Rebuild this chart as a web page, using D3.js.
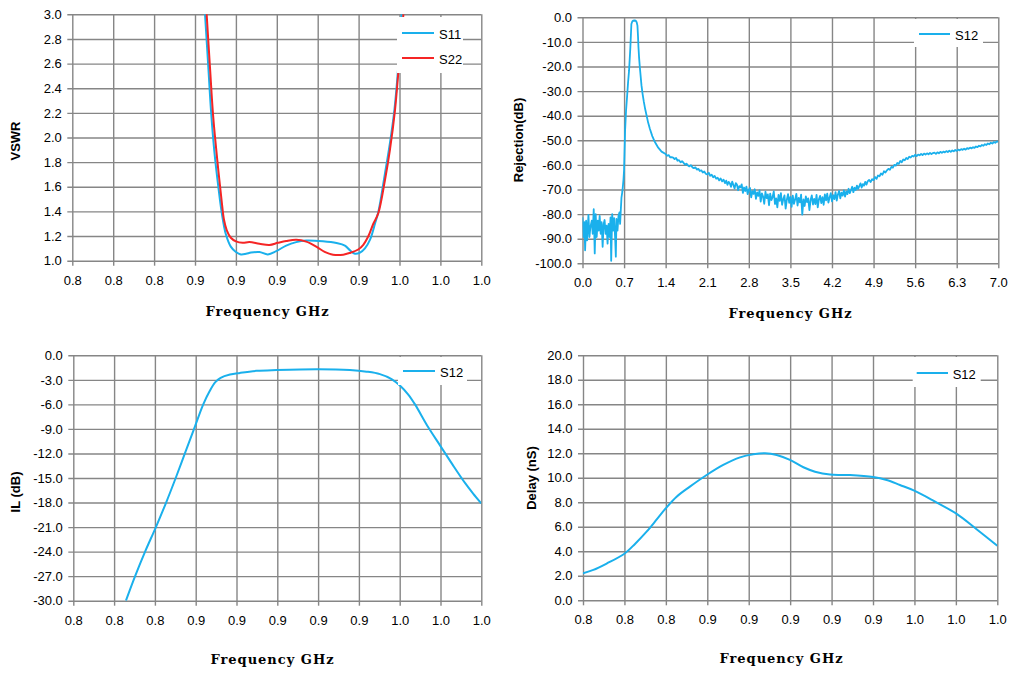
<!DOCTYPE html>
<html>
<head>
<meta charset="utf-8">
<script src="https://cdn.jsdelivr.net/npm/d3@7"></script>
<style>
  html, body { margin: 0; padding: 0; background: #fff; }
  svg { display: block; }
</style>
</head>
<body>
<svg id="chart" width="1021" height="673"></svg>
<script>
// ---------------- DATA ----------------
const freqTicks = [0.80, 0.82, 0.84, 0.86, 0.88, 0.90, 0.92, 0.94, 0.96, 0.98, 1.00];
const freqTickLabels = ["0.8","0.8","0.8","0.9","0.9","0.9","0.9","0.9","1.0","1.0","1.0"];
const wideTicks = [0, 0.7, 1.4, 2.1, 2.8, 3.5, 4.2, 4.9, 5.6, 6.3, 7.0];
const wideTickLabels = ["0.0","0.7","1.4","2.1","2.8","3.5","4.2","4.9","5.6","6.3","7.0"];

const vswrTicks = [1.0, 1.2, 1.4, 1.6, 1.8, 2.0, 2.2, 2.4, 2.6, 2.8, 3.0];
const vswrTickLabels = ["1.0","1.2","1.4","1.6","1.8","2.0","2.2","2.4","2.6","2.8","3.0"];
const rejTicks = [-100, -90, -80, -70, -60, -50, -40, -30, -20, -10, 0];
const rejTickLabels = ["-100.0","-90.0","-80.0","-70.0","-60.0","-50.0","-40.0","-30.0","-20.0","-10.0","0.0"];
const ilTicks = [-30, -27, -24, -21, -18, -15, -12, -9, -6, -3, 0];
const ilTickLabels = ["-30.0","-27.0","-24.0","-21.0","-18.0","-15.0","-12.0","-9.0","-6.0","-3.0","0.0"];
const delayTicks = [0, 2, 4, 6, 8, 10, 12, 14, 16, 18, 20];
const delayTickLabels = ["0.0","2.0","4.0","6.0","8.0","10.0","12.0","14.0","16.0","18.0","20.0"];

// VSWR [GHz, VSWR]
const vswrS11 = [[0.8649,3.0],[0.8665,2.575],[0.8678,2.223],[0.8694,1.898],[0.8714,1.601],[0.8731,1.386],
  [0.8751,1.214],[0.8775,1.114],[0.8800,1.071],[0.8825,1.051],[0.8850,1.056],[0.8874,1.066],[0.8915,1.071],
  [0.8956,1.051],[0.8997,1.077],[0.9046,1.123],[0.9095,1.151],[0.9144,1.163],[0.9226,1.157],[0.9292,1.143],
  [0.9333,1.123],[0.9357,1.086],[0.9382,1.057],[0.9407,1.066],[0.9431,1.100],[0.9456,1.171],[0.9480,1.300],
  [0.9497,1.400],[0.9529,1.709],[0.9553,1.953],[0.9575,2.223],[0.9594,2.575],[0.9610,3.0]];
const vswrS22 = [[0.8657,3.0],[0.8673,2.575],[0.8689,2.169],[0.8709,1.817],[0.8730,1.490],[0.8742,1.330],
  [0.8755,1.249],[0.8775,1.186],[0.8800,1.157],[0.8833,1.145],[0.8866,1.152],[0.8915,1.138],[0.8964,1.128],
  [0.9005,1.145],[0.9046,1.160],[0.9095,1.170],[0.9144,1.155],[0.9193,1.114],[0.9234,1.071],[0.9275,1.049],
  [0.9325,1.049],[0.9357,1.063],[0.9398,1.091],[0.9423,1.129],[0.9448,1.200],[0.9472,1.300],[0.9496,1.384],
  [0.9529,1.655],[0.9553,1.898],[0.9578,2.223],[0.9594,2.521],[0.9619,3.0]];

// Rejection S12 [GHz, dB]
const rejS12 = [
  [0.000,-81.3],[0.017,-89.3],[0.033,-83.3],[0.044,-94.7],[0.061,-82.7],[0.078,-90.7],[0.100,-80.3],
  [0.117,-89.3],[0.133,-85.3],[0.156,-82.7],[0.172,-88.0],[0.189,-78.0],[0.206,-96.0],[0.222,-80.0],
  [0.239,-89.3],[0.256,-82.7],[0.272,-86.7],[0.289,-80.7],[0.306,-88.0],[0.322,-83.3],[0.339,-93.3],
  [0.356,-84.0],[0.372,-82.4],[0.389,-88.0],[0.406,-84.7],[0.422,-92.0],[0.439,-84.0],[0.456,-89.3],
  [0.472,-81.3],[0.483,-99.0],[0.500,-80.0],[0.517,-86.7],[0.533,-81.6],[0.550,-90.0],[0.561,-97.3],
  [0.572,-82.0],[0.589,-86.7],[0.606,-80.7],[0.622,-79.3],[0.633,-84.0],[0.644,-78.7],[0.656,-73.3],
  [0.672,-70.7],[0.690,-66.0],[0.700,-62.0],[0.717,-46.0],[0.733,-38.0],[0.750,-32.4],[0.767,-26.5],
  [0.784,-21.6],[0.806,-12.1],[0.823,-2.7],[0.838,-1.7],[0.852,-1.4],[0.875,-1.3],[0.897,-1.4],
  [0.912,-2.0],[0.925,-3.4],[0.935,-8.0],[0.942,-12.1],[0.953,-16.5],[0.965,-20.2],[0.980,-24.2],
  [0.993,-27.7],[1.012,-31.2],[1.033,-34.4],[1.055,-37.3],[1.078,-39.8],[1.105,-42.8],[1.134,-45.3],
  [1.175,-48.3],[1.219,-50.7],[1.275,-53.0],[1.331,-54.6],
  [1.400,-55.6],[1.425,-56.3],[1.450,-56.0],[1.475,-56.9],[1.500,-56.8],[1.525,-57.0],[1.550,-57.6],
  [1.575,-57.2],[1.600,-58.3],[1.625,-58.1],[1.650,-58.9],[1.675,-58.5],[1.700,-59.1],[1.725,-59.9],
  [1.750,-59.5],[1.775,-60.2],[1.800,-60.6],[1.825,-60.1],[1.850,-61.0],[1.875,-61.3],[1.900,-61.0],
  [1.925,-61.9],[1.950,-61.6],[1.975,-62.5],[2.000,-62.2],[2.025,-63.1],[2.050,-62.7],[2.075,-63.6],
  [2.100,-63.9],[2.125,-63.2],[2.150,-64.4],[2.175,-64.0],[2.200,-65.0],[2.225,-64.5],[2.250,-65.6],
  [2.275,-65.2],[2.300,-66.3],[2.325,-65.5],[2.350,-66.7],[2.375,-66.0],[2.400,-67.4],
  [2.42,-66.4],[2.44,-68.1],[2.46,-66.9],[2.48,-67.5],[2.50,-68.9],[2.52,-66.8],[2.54,-68.2],[2.56,-69.6],
  [2.58,-67.4],[2.60,-68.0],[2.62,-70.3],[2.64,-68.6],[2.66,-69.1],[2.68,-67.9],[2.70,-71.4],[2.72,-69.2],
  [2.74,-70.6],[2.76,-68.8],[2.78,-71.9],[2.80,-70.1],[2.82,-69.4],[2.84,-73.2],[2.86,-70.7],[2.88,-71.8],
  [2.90,-69.9],[2.92,-73.8],[2.94,-71.2],[2.96,-72.6],[2.98,-70.4],[3.00,-74.9],[3.02,-71.6],[3.04,-72.9],
  [3.06,-75.8],[3.08,-70.9],[3.10,-73.5],[3.12,-72.0],[3.14,-76.4],[3.16,-71.7],[3.18,-74.3],[3.20,-73.1],
  [3.22,-70.8],[3.24,-75.9],[3.26,-73.6],[3.28,-77.3],[3.30,-72.2],[3.32,-74.6],[3.34,-71.5],[3.36,-76.2],
  [3.38,-73.9],[3.40,-72.4],[3.42,-77.8],[3.44,-74.1],[3.46,-71.9],[3.48,-75.4],[3.50,-73.0],[3.52,-77.1],
  [3.54,-72.5],[3.56,-75.8],[3.58,-74.0],[3.60,-71.8],[3.62,-76.5],[3.64,-73.4],[3.66,-75.2],[3.68,-72.1],
  [3.70,-80.2],[3.72,-74.0],[3.74,-76.7],[3.76,-72.8],[3.78,-75.1],[3.80,-73.6],[3.82,-78.4],[3.84,-74.3],
  [3.86,-72.4],[3.88,-76.1],[3.90,-73.8],[3.92,-75.9],[3.94,-72.2],[3.96,-77.3],[3.98,-74.0],[4.00,-72.6],
  [4.02,-75.5],[4.04,-73.1],[4.06,-76.2],[4.08,-72.0],[4.10,-74.4],[4.12,-71.7],[4.14,-75.3],[4.16,-73.2],
  [4.18,-71.5],[4.20,-74.8],[4.22,-72.3],[4.24,-73.9],[4.26,-71.1],[4.28,-74.5],[4.30,-72.0],[4.32,-70.6],
  [4.34,-73.6],[4.36,-71.3],[4.38,-72.5],[4.40,-70.4],[4.42,-72.9],[4.44,-70.8],[4.46,-71.9],[4.48,-69.7],
  [4.50,-71.5],[4.52,-70.2],[4.54,-68.9],[4.56,-71.1],[4.58,-69.3],[4.60,-70.2],[4.62,-68.4],[4.64,-69.8],
  [4.66,-68.6],[4.68,-67.5],[4.70,-69.2],[4.72,-67.8],[4.74,-68.4],[4.76,-66.9],[4.78,-68.0],[4.80,-66.7],
  [4.825,-66.1],[4.850,-67.0],[4.875,-65.8],[4.900,-66.2],[4.925,-64.9],[4.950,-65.7],[4.975,-64.3],
  [5.000,-64.6],[5.025,-63.5],[5.050,-64.0],[5.075,-62.6],[5.100,-63.1],[5.125,-62.2],[5.150,-61.6],
  [5.175,-62.0],[5.200,-60.8],[5.225,-61.1],[5.250,-60.0],[5.275,-60.3],[5.300,-59.2],[5.325,-59.6],
  [5.350,-58.4],[5.375,-58.9],[5.400,-57.8],[5.425,-58.1],[5.450,-57.2],[5.475,-57.6],[5.500,-56.7],
  [5.525,-57.0],[5.550,-56.3],[5.575,-56.6],[5.600,-55.9],[5.625,-56.4],[5.650,-55.8],[5.675,-56.1],
  [5.700,-55.5],[5.725,-56.0],[5.750,-55.4],[5.775,-55.8],[5.800,-55.3],[5.825,-55.7],[5.850,-55.1],
  [5.875,-55.6],[5.900,-55.2],[5.925,-55.0],[5.950,-55.5],[5.975,-54.9],[6.000,-55.3],[6.025,-54.7],
  [6.050,-55.1],[6.075,-54.6],[6.100,-54.9],[6.125,-54.4],[6.150,-54.8],[6.175,-54.2],[6.200,-54.7],
  [6.225,-54.1],[6.250,-54.5],[6.275,-53.9],[6.300,-54.3],[6.325,-53.8],[6.350,-54.1],[6.375,-53.6],
  [6.400,-53.9],[6.425,-53.4],[6.450,-53.8],[6.475,-53.2],[6.500,-53.5],[6.525,-53.0],[6.550,-53.3],
  [6.575,-52.8],[6.600,-53.1],[6.625,-52.5],[6.650,-52.8],[6.675,-52.2],[6.700,-52.5],[6.725,-51.9],
  [6.750,-52.2],[6.775,-51.6],[6.800,-51.9],[6.825,-51.3],[6.850,-51.6],[6.875,-51.0],[6.900,-51.3],
  [6.925,-50.7],[6.950,-51.0],[6.975,-50.4],[7.000,-50.6]];

// Insertion loss S12 [GHz, dB]
const ilS12 = [[0.8258,-30.0],[0.8303,-27.0],[0.8352,-24.0],[0.8405,-21.0],[0.8455,-18.0],[0.8502,-15.0],
  [0.8547,-12.0],[0.8592,-9.0],[0.8637,-6.0],[0.8668,-4.4],[0.8695,-3.3],[0.8722,-2.75],[0.8768,-2.35],
  [0.8817,-2.15],[0.8899,-1.9],[0.8997,-1.8],[0.9201,-1.7],[0.9356,-1.8],[0.9438,-2.0],[0.9503,-2.3],
  [0.9560,-2.9],[0.9601,-3.7],[0.9642,-4.8],[0.9675,-6.0],[0.9740,-8.8],[0.9800,-11.1],[0.9860,-13.4],
  [0.9920,-15.6],[0.9960,-16.9],[1.0000,-18.1]];

// Group delay S12 [GHz, nS]
const delayS12 = [[0.8000,2.2],[0.8050,2.48],[0.8114,3.0],[0.8198,3.78],[0.8251,4.6],[0.8307,5.6],
  [0.8356,6.6],[0.8399,7.5],[0.8452,8.46],[0.8516,9.28],[0.8597,10.23],[0.8677,11.05],[0.8758,11.67],
  [0.8822,11.92],[0.8879,12.0],[0.8935,11.86],[0.8999,11.46],[0.9064,10.86],[0.9120,10.5],[0.9192,10.26],
  [0.9289,10.23],[0.9401,10.07],[0.9466,9.82],[0.9530,9.41],[0.9599,8.95],[0.9691,8.14],[0.9804,7.05],
  [0.9900,5.8],[1.0000,4.46]];

// ---------------- DRAWING ----------------
const BLUE = "#1ab0ec", RED = "#f52525", GRID = "#868686";
const TICK_FONT = "'Liberation Sans', Arial, sans-serif";
const svg = d3.select("#chart");
svg.append("rect").attr("width", 1021).attr("height", 673).attr("fill", "#fff");

const panels = [
  { box: [72.3, 481.3, 14.3, 260.7], xDomain: [0.80, 1.00], xTicks: freqTicks, xLabels: freqTickLabels,
    yDomain: [1, 3], yTicks: vswrTicks, yLabels: vswrTickLabels, yTitle: "VSWR", yTitlePos: [15, 141],
    xTitlePos: [267.5, 316], smooth: true,
    series: [{ name: "S11", data: vswrS11, color: BLUE }, { name: "S22", data: vswrS22, color: RED }],
    legend: { box: [397, 463, 17, 73], line: [402, 434], textX: 439, rows: [33, 58] } },
  { box: [582.5, 998.3, 17.3, 263.3], xDomain: [0, 7], xTicks: wideTicks, xLabels: wideTickLabels,
    yDomain: [-100, 0], yTicks: rejTicks, yLabels: rejTickLabels, yTitle: "Rejection(dB)", yTitlePos: [518.5, 140],
    xTitlePos: [790.5, 318], smooth: false,
    series: [{ name: "S12", data: rejS12, color: BLUE }],
    legend: { box: [914, 983, 19, 47], line: [919, 950], textX: 955, rows: [34] } },
  { box: [73.3, 481.3, 355.3, 600.7], xDomain: [0.80, 1.00], xTicks: freqTicks, xLabels: freqTickLabels,
    yDomain: [-30, 0], yTicks: ilTicks, yLabels: ilTickLabels, yTitle: "IL (dB)", yTitlePos: [15.5, 492],
    xTitlePos: [272.5, 664], smooth: true,
    series: [{ name: "S12", data: ilS12, color: BLUE }],
    legend: { box: [398, 467, 357, 385], line: [403, 435], textX: 440, rows: [371] } },
  { box: [583, 997.3, 355.3, 600.3], xDomain: [0.80, 1.00], xTicks: freqTicks, xLabels: freqTickLabels,
    yDomain: [0, 20], yTicks: delayTicks, yLabels: delayTickLabels, yTitle: "Delay (nS)", yTitlePos: [531.5, 478],
    xTitlePos: [781.5, 663], smooth: true,
    series: [{ name: "S12", data: delayS12, color: BLUE }],
    legend: { box: [912.7, 980.7, 357, 387], line: [916.7, 948], textX: 952.7, rows: [373] } }
];

panels.forEach((p, pi) => {
  const [x0, x1, y0, y1] = p.box;
  const w = x1 - x0, h = y1 - y0;
  const x = d3.scaleLinear().domain(p.xDomain).range([0, w]);
  const y = d3.scaleLinear().domain(p.yDomain).range([h, 0]);
  const g = svg.append("g").attr("transform", `translate(${x0},${y0})`);

  // Y axis + horizontal grid
  const ya = g.append("g").attr("transform", "translate(-5,0)")
    .call(d3.axisLeft(y).tickValues(p.yTicks).tickFormat((d, i) => p.yLabels[i])
      .tickSize(-(w + 5)).tickPadding(5.5));
  // X axis + vertical grid
  const xa = g.append("g").attr("transform", `translate(0,${h + 5})`)
    .call(d3.axisBottom(x).tickValues(p.xTicks).tickFormat((d, i) => p.xLabels[i])
      .tickSize(-(h + 5)).tickPadding(9.8));
  [ya, xa].forEach(a => {
    a.select(".domain").remove();
    a.selectAll(".tick line").attr("stroke", GRID).attr("stroke-width", 1.4);
    a.selectAll(".tick text").attr("fill", "#000").style("font-family", TICK_FONT).style("font-size", "13px");
  });

  // clip
  const cid = "clip" + pi;
  g.append("clipPath").attr("id", cid).append("rect").attr("x", 0).attr("y", -1).attr("width", w).attr("height", h + 1);

  const line = d3.line().x(d => x(d[0])).y(d => y(d[1]))
    .curve(p.smooth ? d3.curveCatmullRom.alpha(0.5) : d3.curveLinear);
  p.series.forEach(s => {
    g.append("path").datum(s.data).attr("clip-path", `url(#${cid})`)
      .attr("fill", "none").attr("stroke", s.color).attr("stroke-width", p.smooth ? 2 : 1.8)
      .attr("stroke-linejoin", "round").attr("d", line);
  });

  // Legend
  const L = p.legend;
  svg.append("rect").attr("x", L.box[0]).attr("y", L.box[2])
    .attr("width", L.box[1] - L.box[0]).attr("height", L.box[3] - L.box[2]).attr("fill", "#fff");
  p.series.forEach((s, i) => {
    svg.append("line").attr("x1", L.line[0]).attr("x2", L.line[1]).attr("y1", L.rows[i]).attr("y2", L.rows[i])
      .attr("stroke", s.color).attr("stroke-width", 2);
    svg.append("text").attr("x", L.textX).attr("y", L.rows[i] + 5.5).text(s.name)
      .attr("fill", "#000").style("font-family", TICK_FONT).style("font-size", "13px");
  });

  // Titles
  svg.append("text").attr("transform", `translate(${p.yTitlePos[0]},${p.yTitlePos[1]}) rotate(-90)`)
    .attr("text-anchor", "middle").attr("dominant-baseline", "central").text(p.yTitle)
    .style("font-family", TICK_FONT).style("font-weight", "bold").style("font-size", "13px").attr("fill", "#000");
  svg.append("text").attr("x", p.xTitlePos[0]).attr("y", p.xTitlePos[1]).attr("text-anchor", "middle")
    .text("Frequency GHz").style("font-family", "'DejaVu Serif', serif").style("font-weight", "bold")
    .style("font-size", "13px").style("letter-spacing", "1px").attr("fill", "#000");
});
</script>
</body>
</html>
